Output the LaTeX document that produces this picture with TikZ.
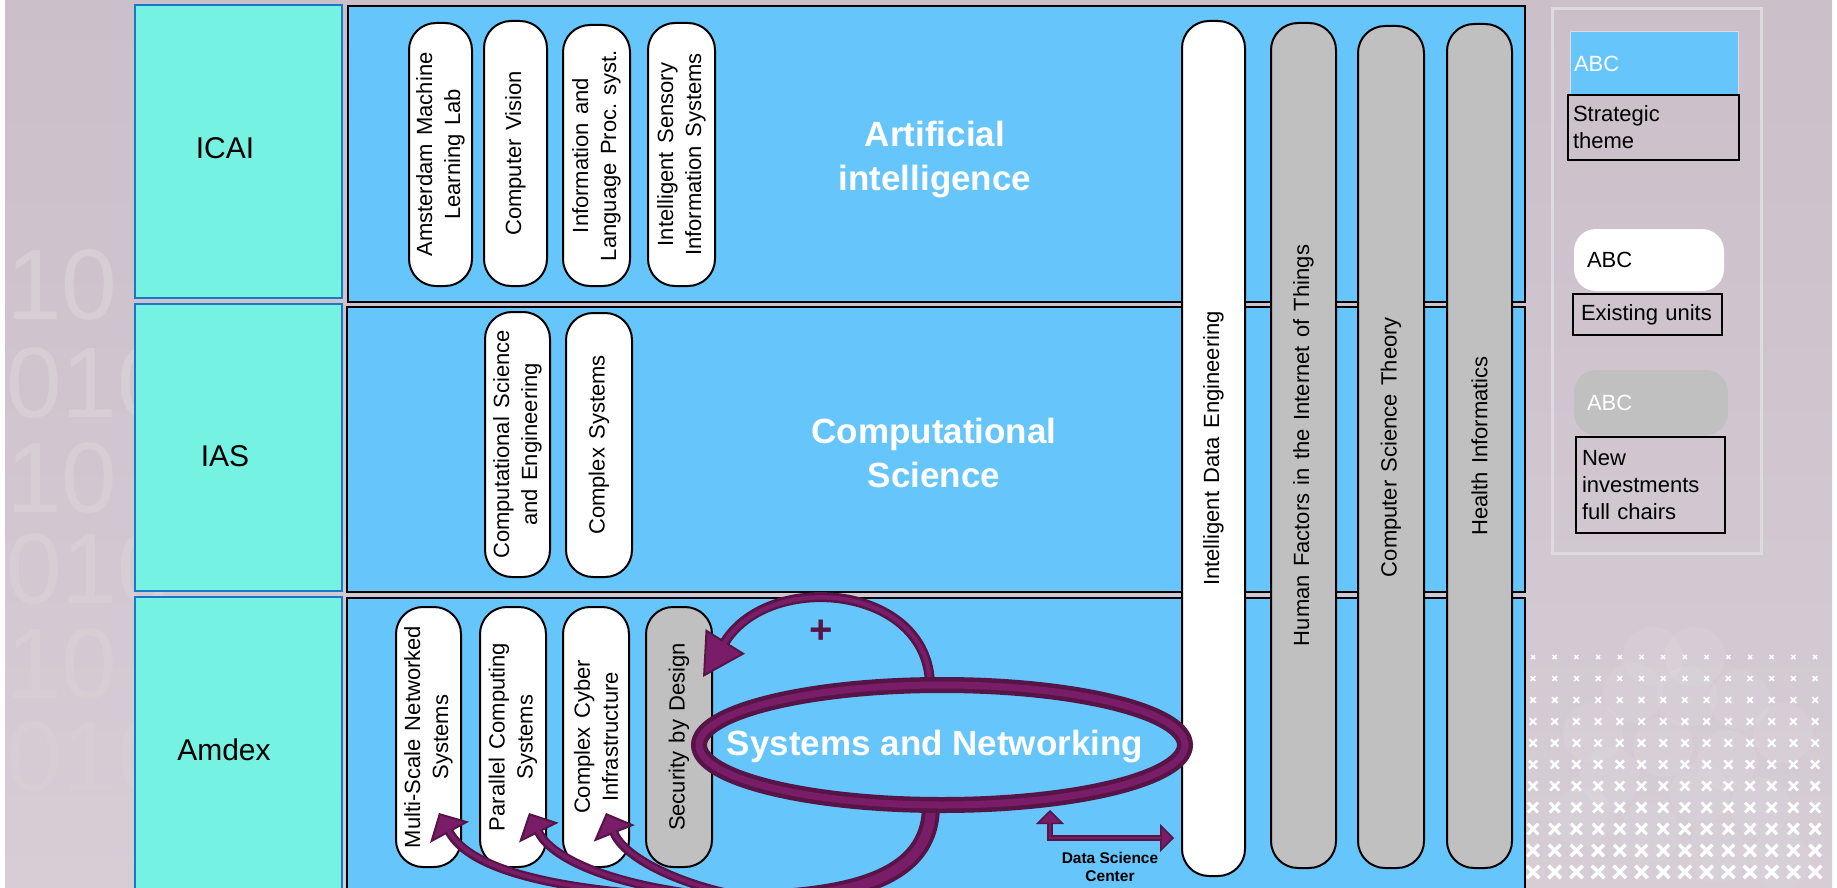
\documentclass[tikz,border=0pt]{standalone}
\usepackage{fontspec}
\setmainfont{Liberation Sans}
\usetikzlibrary{shapes.geometric,arrows.meta}
\definecolor{bgtop}{HTML}{CBBFCA}
\definecolor{bgbot}{HTML}{D6CDD5}
\definecolor{teal1}{HTML}{76F2E2}
\definecolor{tealb}{HTML}{1B78C8}
\definecolor{sky}{HTML}{66C6FC}
\definecolor{capgray}{HTML}{C0C0C0}
\definecolor{purp}{HTML}{7A1D68}
\definecolor{purpd}{HTML}{561447}
\definecolor{digitc}{HTML}{D6CDD5}
\definecolor{frameg}{HTML}{DEDADE}
\newcommand\capfont{\fontsize{22pt}{28pt}\selectfont\spaceskip=0.38em\relax}
\newcommand\unitfont{\fontsize{30pt}{36pt}\selectfont}
\newcommand\themefont{\bfseries\fontsize{35pt}{44pt}\selectfont}
\newcommand\legfont{\fontsize{22pt}{27pt}\selectfont}
\newcommand\dsfont{\bfseries\fontsize{15.5pt}{18pt}\selectfont}
\tikzset{
  capsule/.style={draw=black, line width=2pt, rounded corners=27pt, fill=white, rotate=90, align=center, font=\capfont, inner sep=0pt, text=black},
  newcap/.style={capsule, fill=capgray},
  unitbox/.style={draw=tealb, line width=1.6pt, fill=teal1},
  unitlabel/.style={font=\unitfont, anchor=base, inner sep=0pt},
  panelbox/.style={draw=black, line width=2.5pt, fill=sky},
  themelabel/.style={text=white, align=center, font=\themefont, inner sep=0pt},
  legbox/.style={draw=black, line width=2pt, align=left, font=\legfont, inner xsep=5pt, inner ysep=0pt},
  digitstyle/.style={text=digitc, font=\fontsize{100pt}{100pt}\selectfont, inner sep=0pt, anchor=west},
  tipbig/.style={-{Triangle[length=42pt,width=46pt,line width=2pt,fill=purp]}},
  tipmid/.style={-{Triangle[length=22pt,width=44pt,line width=2pt,fill=purp]}},
  tipsmall/.style={{Triangle[length=14pt,width=28pt,line width=1.5pt,fill=purp]}-{Triangle[length=14pt,width=28pt,line width=1.5pt,fill=purp]}},
}
\begin{document}
\begin{tikzpicture}[x=1pt,y=-1pt]
\useasboundingbox (0,0) rectangle (1837,888);
\clip (0,0) rectangle (1837,888);
\fill[white] (0,0) rectangle (1837,888);
\shade[top color=bgtop, bottom color=bgbot] (5,0) rectangle (1832,888);
% faint background digits
\foreach \yy/\txt/\xx in {285/10/6, 383/010/6, 478/10/6, 569/010/6, 664/10/6, 757/010/6}
  \node[digitstyle] (dg\yy) at (\xx,\yy) {\txt};
% faint spheres
\foreach \cx/\cy in {1653/657, 1695/657, 1633/693, 1687/697, 1740/700, 1593/733, 1663/747, 1727/760, 1783/733, 1610/777, 1700/793, 1760/807, 1583/817, 1650/833, 1717/853, 1780/860}
  \fill[white, opacity=0.07] (\cx,\cy) circle (30pt);
% white cross grid
\foreach \j [evaluate=\j as \s using 2+0.42*\j, evaluate=\j as \w using 1.4+0.22*\j, evaluate=\j as \yy using 657+21.5*\j] in {0,...,10} {
  \foreach \i [evaluate=\i as \xx using 1533+21.7*\i] in {0,...,13} {
    \draw[white, line width=\w pt] (\xx-\s,\yy-\s) -- (\xx+\s,\yy+\s) (\xx-\s,\yy+\s) -- (\xx+\s,\yy-\s);
  }
}
% unit column
\draw[unitbox] (135,5) rectangle (342,298);
\draw[unitbox] (135,304) rectangle (342,591);
\draw[unitbox] (135,597) rectangle (342,900);
\node[unitlabel] (icai) at (225,158) {ICAI};
\node[unitlabel] (ias) at (225,466) {IAS};
\node[unitlabel] (amdex) at (224,760) {Amdex};
% theme panels
\draw[panelbox] (348,6) rectangle (1525,302);
\draw[panelbox] (347,307) rectangle (1525,592);
\draw[panelbox] (347,598) rectangle (1525,905);
% theme titles
\node[themelabel] (aitheme) at (935,160) {Artificial\\intelligence};
\node[themelabel] (cstheme) at (934,453) {Computational\\Science};
% AI units
\node[capsule, minimum width=263pt, minimum height=63pt] (amll) at (440.5,154.5) {Amsterdam Machine\\Learning Lab};
\node[capsule, minimum width=265pt, minimum height=63pt] (cv) at (515.5,153.5) {Computer Vision};
\node[capsule, minimum width=261pt, minimum height=67pt] (ilp) at (596.5,155.5) {Information and\\Language Proc.\ syst.};
\node[capsule, minimum width=263pt, minimum height=67pt] (isis) at (681.5,154.5) {Intelligent Sensory\\Information Systems};
% CS units
\node[capsule, minimum width=265pt, minimum height=65pt] (cse) at (517.5,444.5) {Computational Science\\and Engineering};
\node[capsule, minimum width=264pt, minimum height=66pt] (cxs) at (599,445) {Complex Systems};
% Amdex units
\node[capsule, minimum width=260pt, minimum height=65pt] (msns) at (428.5,737) {Multi-Scale Networked\\Systems};
\node[capsule, minimum width=260pt, minimum height=66pt] (pcs) at (513,737) {Parallel Computing\\Systems};
\node[capsule, minimum width=260pt, minimum height=66pt] (cci) at (596,737) {Complex Cyber\\Infrastructure};
\node[newcap, minimum width=260pt, minimum height=66pt] (sbd) at (679,737) {Security by Design};
% cross-cutting columns
\node[capsule, minimum width=855pt, minimum height=63pt] (ide) at (1213.5,448.5) {Intelligent Data Engineering};
\node[newcap, minimum width=845pt, minimum height=65pt] (hfit) at (1303.5,445.5) {Human Factors in the Internet of Things};
\node[newcap, minimum width=842pt, minimum height=66pt] (cst) at (1391,447) {Computer Science Theory};
\node[newcap, minimum width=844pt, minimum height=65pt] (hinf) at (1479.5,446) {Health Informatics};
% systems and networking ellipse (placed first for anchors)
\path node[ellipse, minimum width=486pt, minimum height=121pt, inner sep=0pt, outer sep=0pt] (sn) at (942,745) {};
\coordinate (loopS) at ([xshift=-12pt]sn.north);
\coordinate (trS) at ([xshift=-11pt]sn.south);
\coordinate (trM) at (760,899);
\coordinate (tipSB) at (703,677);
\coordinate (tipMS) at (439,813);
\coordinate (tipPC) at (529,813);
\coordinate (tipCC) at (606,813);
\coordinate (dsU) at (1050,810);
\coordinate (dsR) at (1174,838);
% dark passes
\draw[purpd, line width=10pt, tipbig] (loopS) .. controls (928,585) and (770,570) .. (tipSB);
\draw[purpd, line width=18pt] (trS) .. controls (931,870) and (870,895) .. (trM);
\draw[purpd, line width=9pt, tipmid] (trM) .. controls (560,897) and (470,870) .. (tipMS);
\draw[purpd, line width=9pt, tipmid] (trM) .. controls (640,895) and (555,865) .. (tipPC);
\draw[purpd, line width=9pt, tipmid] (trM) .. controls (690,890) and (625,860) .. (tipCC);
% purple passes
\draw[purp, line width=4.5pt, shorten >=40pt] (loopS) .. controls (928,585) and (770,570) .. (tipSB);
\draw[purp, line width=10pt] (trS) .. controls (931,870) and (870,895) .. (trM);
\draw[purp, line width=4pt, shorten >=20pt] (trM) .. controls (560,897) and (470,870) .. (tipMS);
\draw[purp, line width=4pt, shorten >=20pt] (trM) .. controls (640,895) and (555,865) .. (tipPC);
\draw[purp, line width=4pt, shorten >=20pt] (trM) .. controls (690,890) and (625,860) .. (tipCC);
% ring
\draw[purpd, line width=4.5pt, double=purp, double distance=7pt] (sn.center) ellipse [x radius=243pt, y radius=60pt];
\node[text=white, font=\themefont, inner sep=0pt, anchor=base] (sntext) at (935,755) {Systems and Networking};
\node[text=purpd, font=\bfseries\fontsize{40pt}{40pt}\selectfont, inner sep=0pt] (plus) at (821,632) {+};
% data science center link
\draw[purpd, line width=6pt, tipsmall] (dsU) |- (dsR);
\draw[purp, line width=2.5pt, shorten <=13pt, shorten >=13pt] (dsU) |- (dsR);
\node[font=\dsfont, align=center, inner sep=0pt] (dsc) at (1110,867) {Data Science\\Center};
% legend
\node[draw=frameg, line width=3pt, minimum width=209pt, minimum height=544pt, inner sep=0pt] (legframe) at (1656.5,281) {};
\node[fill=sky, draw=frameg, line width=1pt, minimum width=168pt, minimum height=63pt, text width=160pt, inner xsep=4pt, inner ysep=0pt, align=left, font=\legfont, text=white] (lg1) at (1654,63.5) {ABC};
\node[legbox, minimum width=171pt, minimum height=65pt, text width=161pt] (lg1t) at (1653.5,127.5) {Strategic\\theme};
\node[fill=white, rounded corners=22pt, minimum width=150pt, minimum height=62pt, text width=124pt, inner xsep=13pt, inner ysep=0pt, align=left, font=\legfont] (lg2) at (1649,260) {ABC};
\node[legbox, minimum width=149pt, minimum height=41pt, text width=133pt, inner xsep=8pt] (lg2t) at (1647.5,314.5) {Existing units};
\node[fill=capgray, rounded corners=22pt, minimum width=154pt, minimum height=65pt, text width=128pt, inner xsep=13pt, inner ysep=0pt, align=left, font=\legfont, text=white] (lg3) at (1651,402.5) {ABC};
\node[legbox, minimum width=149pt, minimum height=96pt, text width=137pt, inner xsep=6pt] (lg3t) at (1650.5,485) {New\\investments\\full chairs};
\end{tikzpicture}
\end{document}
